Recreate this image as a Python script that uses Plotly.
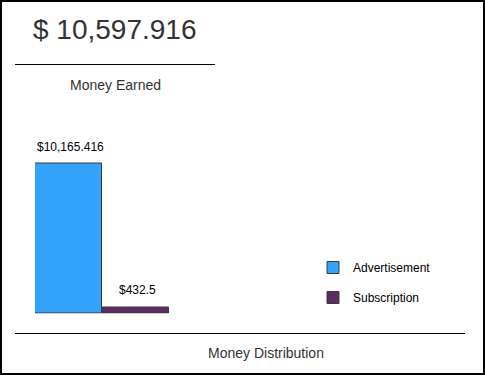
import plotly.graph_objects as go

# ---- data ----
categories = ["Advertisement", "Subscription"]
values = [10165.416, 432.5]
colors = ["#33A3FB", "#5C2B61"]
total_label = "$ 10,597.916"
title_top = "Money Earned"
title_bottom = "Money Distribution"

W, H = 485, 375
def px(x):
    return x / W
def py(y):
    return (H - y) / H

fig = go.Figure()
for cat, val, col in zip(categories, values, colors):
    fig.add_trace(go.Bar(
        x=[cat], y=[val], name=cat, legendgroup=cat,
        marker=dict(color=col, line=dict(color="#3a3a3a", width=1)),
        hoverinfo="skip",
    ))
    fig.add_annotation(
        x=cat, y=val, xref="x", yref="y", text=f"${val:,}",
        showarrow=False, xanchor="center", yanchor="bottom", yshift=8, xshift=2,
        font=dict(family="Liberation Sans, Arial", size=12, color="#000"),
    )

ymax = values[0] * 183 / 150
fig.update_layout(
    width=W, height=H,
    margin=dict(l=0, r=0, t=0, b=0),
    paper_bgcolor="white", plot_bgcolor="white",
    barmode="overlay", bargap=0,
    xaxis=dict(domain=[px(35), px(169)], visible=False, range=[-0.5, 1.5]),
    yaxis=dict(domain=[py(313.5), py(130.5)], visible=False, range=[0, ymax]),
    showlegend=True,
    legend=dict(
        x=px(313), y=py(253), xanchor="left", yanchor="top",
        font=dict(family="Liberation Sans, Arial", size=12, color="#000"),
        traceorder="grouped", tracegroupgap=11, bgcolor="rgba(0,0,0,0)",
    ),
    font=dict(family="Liberation Sans, Arial", color="#333"),
)

# big total
fig.add_annotation(x=px(115), y=py(30), xref="paper", yref="paper",
                   text=total_label, showarrow=False,
                   xanchor="center", yanchor="middle",
                   font=dict(size=28, color="#333"))
fig.add_annotation(x=px(115), y=py(85), xref="paper", yref="paper",
                   text=title_top, showarrow=False,
                   xanchor="center", yanchor="middle",
                   font=dict(size=14, color="#333"))
fig.add_annotation(x=px(266), y=py(353), xref="paper", yref="paper",
                   text=title_bottom, showarrow=False,
                   xanchor="center", yanchor="middle",
                   font=dict(size=14, color="#333"))

# lines & border
fig.add_shape(type="line", xref="paper", yref="paper",
              x0=px(15), x1=px(215), y0=py(64.5), y1=py(64.5),
              line=dict(color="#000", width=1))
fig.add_shape(type="line", xref="paper", yref="paper",
              x0=px(15), x1=px(465), y0=py(333.5), y1=py(333.5),
              line=dict(color="#000", width=1))
fig.add_shape(type="rect", xref="paper", yref="paper",
              x0=px(1), x1=px(484), y0=py(374), y1=py(1),
              line=dict(color="#000", width=2))

fig.write_html("out.html", config={"displayModeBar": False},
               post_script="document.body.style.margin='0';document.body.style.padding='0';")
